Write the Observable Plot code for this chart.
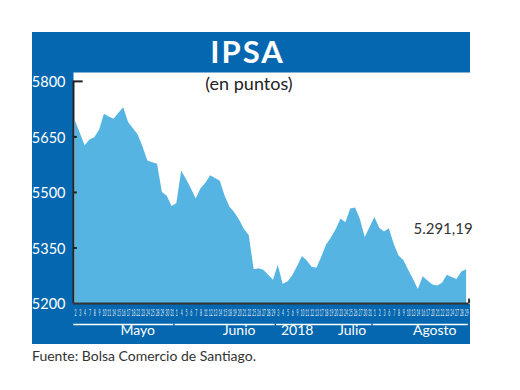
<!DOCTYPE html>
<html>
<head>
<meta charset="utf-8">
<script src="https://cdn.jsdelivr.net/npm/d3@7"></script>
<script src="https://cdn.jsdelivr.net/npm/@observablehq/plot@0.6"></script>
<style>
  html, body { margin: 0; padding: 0; background: #fff; }
  body { width: 520px; height: 390px; position: relative; overflow: hidden; font-family: Lato, "Open Sans", sans-serif; }
  #box { position: absolute; left: 32px; top: 32px; width: 438px; height: 312px; background: #0467AF; }
  #title { position: absolute; left: 32px; top: 32px; width: 431px; padding-right: 7px; height: 40px; line-height: 40px;
           text-align: center; color: #fff; font: bold 31px Lato, sans-serif; letter-spacing: 2px; }
  #chart { position: absolute; left: 32px; top: 72px; }
  #chart svg { overflow: visible; }
  #sub { position: absolute; left: 32px; top: 72px; width: 434px; text-align: center; font-size: 18px; color: #222; }
  #cap { position: absolute; left: 32px; top: 347px; font-size: 14px; color: #333; }
</style>
</head>
<body>
<div id="box"></div>
<div id="title">IPSA</div>
<div id="chart"></div>
<div id="sub">(en puntos)</div>
<div id="cap">Fuente: Bolsa Comercio de Santiago.</div>
<script>
const monthNames = ["Mayo", "Junio", "Julio", "Agosto"];
const yearLabel = "2018";
const mayDays = [2,3,4,7,8,9,10,11,14,15,16,17,18,22,23,24,25,28,29,30,31];
const junDays = [1,4,5,6,7,8,11,12,13,14,15,18,19,20,21,22,25,26,27,28,29];
const julDays = [3,4,5,6,9,10,11,12,13,17,18,19,20,23,24,25,26,27,30,31];
const augDays = [1,2,3,6,7,8,9,10,13,14,16,17,20,21,22,23,24,27,28,29];
const mayValues = [5693,5660,5626,5642,5648,5668,5711,5704,5698,5714,5729,5689,5672,5655,5622,5585,5580,5576,5500,5490,5462];
const junValues = [5470,5557,5535,5510,5482,5510,5525,5545,5538,5530,5490,5460,5445,5425,5400,5383,5291,5294,5290,5276,5263];
const julValues = [5303,5252,5258,5275,5300,5327,5315,5298,5295,5325,5358,5377,5400,5428,5418,5455,5458,5427,5378,5405];
const augValues = [5432,5403,5393,5402,5360,5328,5316,5290,5265,5238,5272,5261,5250,5247,5255,5276,5270,5265,5285,5291.19];
const yTicks = [5200, 5350, 5500, 5650, 5800];

const dayLists = [mayDays, junDays, julDays, augDays];
const valueLists = [mayValues, junValues, julValues, augValues];
const rows = [];
const months = [];
dayLists.forEach((days, m) => {
  const first = rows.length;
  days.forEach((d, k) => rows.push({i: rows.length, day: String(d), month: m, v: valueLists[m][k]}));
  const last = rows.length - 1;
  months.push({name: monthNames[m], first, last, mid: (first + last) / 2});
});
const lastRow = rows[rows.length - 1];
const es = d3.formatLocale({decimal: ",", thousands: ".", grouping: [3], currency: ["$", ""]});
const fmt = es.format(",.2f");

const blue = "#0467AF";
const area = "#56B4E3";
const x0 = -0.4, x1 = 81.8;

const chart = Plot.plot({
  width: 438,
  height: 273,
  marginLeft: 41,
  marginRight: 0,
  marginTop: 0,
  marginBottom: 42,
  style: {background: "transparent", fontFamily: "Lato, sans-serif", overflow: "visible"},
  x: {domain: [x0, x1], axis: null},
  y: {domain: [5200, 5824], axis: null},
  marks: [
    Plot.frame({fill: "white", stroke: null}),
    Plot.areaY(rows, {x: "i", y1: 5200, y2: "v", fill: area}),
    Plot.axisY({ticks: yTicks, label: null, tickSize: 0, tickPadding: 8, color: "white", fontSize: 14.5, dy: 1, tickFormat: d => String(d)}),
    Plot.ruleX([x0], {y1: 5200, y2: 5800, stroke: "#222", strokeWidth: 2}),
    Plot.ruleY([5800], {x1: x0, x2: x0 + 2.0, stroke: "#222", strokeWidth: 2}),
    Plot.ruleY(yTicks.slice(1, 4), {x1: x0, x2: x0 + 0.8, stroke: "#222", strokeWidth: 2}),
    Plot.ruleY([5200], {x1: x0, x2: 81.5, stroke: "#333", strokeWidth: 2}),
    Plot.ruleX([81.5], {y1: 5200, y2: 5212, stroke: "#333", strokeWidth: 2}),
    Plot.text(rows, {x: "i", frameAnchor: "bottom", dy: 12, text: "day", fill: "#e8f0f8", fontSize: 9, ariaLabel: "daylabels"}),
    Plot.ruleY(months, {x1: d => d.first - 0.35, x2: d => d.last + 0.35, y: () => 5200, dy: 21, stroke: "white", strokeWidth: 1.5}),
    Plot.text(months.filter(d => d.name !== "Julio"), {x: "mid", frameAnchor: "bottom", dy: 31, text: "name", fill: "white", fontSize: 14, dx: 14}),
    Plot.text(months.filter(d => d.name === "Julio"), {x: "mid", frameAnchor: "bottom", dy: 31, text: () => yearLabel, fill: "white", fontSize: 14, dx: -27}),
    Plot.text(months.filter(d => d.name === "Julio"), {x: "mid", frameAnchor: "bottom", dy: 31, text: "name", fill: "white", fontSize: 14, dx: 28}),
    Plot.text([lastRow], {x: "i", y: "v", text: d => fmt(d.v), textAnchor: "end", dx: 6, dy: -41, fontSize: 15, fill: "#333"})
  ]
});
document.getElementById("chart").appendChild(chart);
const dayGroups = Array.from(chart.querySelectorAll("g")).filter(g => g.getAttribute("aria-label") === "daylabels" || g.getAttribute("font-size") === "9");
dayGroups.forEach(g => g.querySelectorAll("text").forEach(t => {
  const n = t.textContent.length;
  t.setAttribute("textLength", n === 1 ? 2.0 : 3.8);
  t.setAttribute("lengthAdjust", "spacingAndGlyphs");
}));
</script>
</body>
</html>
